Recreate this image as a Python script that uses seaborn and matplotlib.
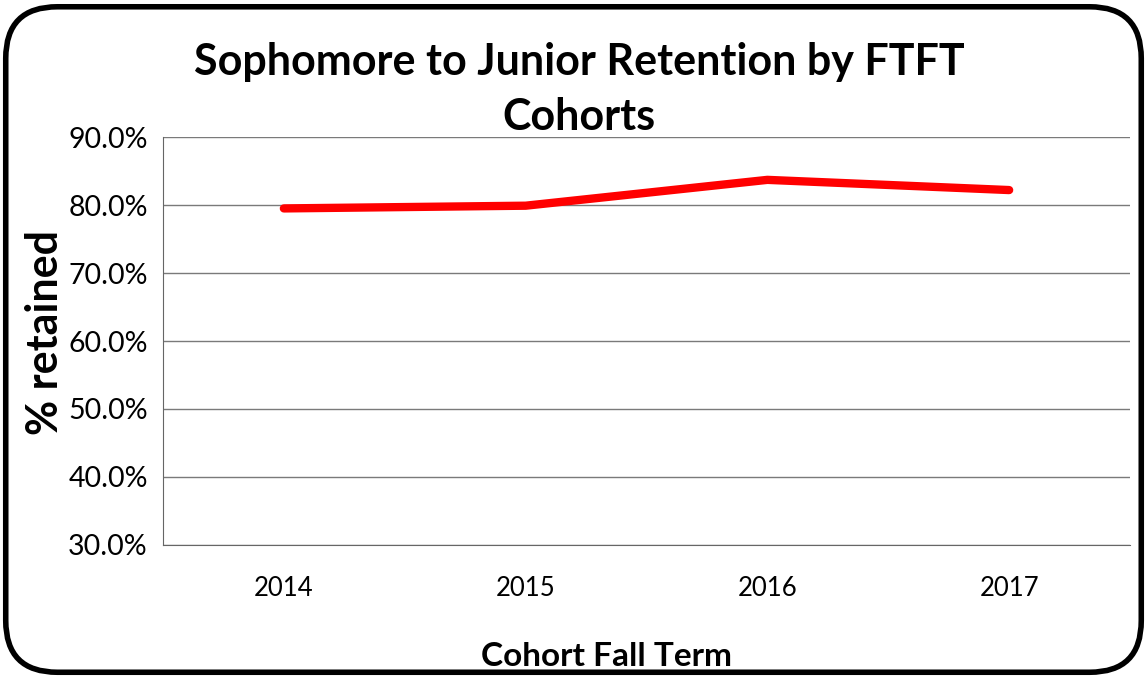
import numpy as np
import matplotlib
matplotlib.use("Agg")
import matplotlib.pyplot as plt
from matplotlib.patches import FancyBboxPatch
from matplotlib.ticker import FuncFormatter, FixedLocator
import pandas as pd
import seaborn as sns

# data
cohorts = ["2014", "2015", "2016", "2017"]
retained = [79.5, 79.9, 83.7, 82.2]

df = pd.DataFrame({"cohort": cohorts, "retained": retained})

sns.set_style("white")
plt.rcParams["font.family"] = ["Lato", "DejaVu Sans"]
plt.rcParams["text.color"] = "black"
plt.rcParams["axes.labelcolor"] = "black"
plt.rcParams["xtick.color"] = "black"
plt.rcParams["ytick.color"] = "black"

fig = plt.figure(figsize=(11.47, 6.77), dpi=100)
ax = fig.add_axes([0.1421, 0.195, 0.8431, 0.6026])

sns.lineplot(data=df, x="cohort", y="retained", color="#FF0000",
             linewidth=6, solid_capstyle="round", ax=ax)

ax.set_ylim(30, 90)
ax.set_xlim(-0.5, 3.5)
ax.yaxis.set_major_locator(FixedLocator(np.arange(30, 91, 10)))
ax.yaxis.set_major_formatter(FuncFormatter(lambda v, p: f"{v:.1f}%"))
ax.grid(axis="y", color="#7a7a7a", linewidth=1)
ax.set_axisbelow(True)

# labels centred on categories, ticks on the boundaries
ax.set_xticks(range(len(cohorts)))
ax.set_xticklabels(cohorts)
ax.set_xticks(np.arange(-0.5, 3.6, 1), minor=True)
ax.tick_params(axis="x", which="major", length=0, pad=22, labelsize=18.5)
ax.tick_params(axis="x", which="minor", length=8, width=1, color="#666666", direction="out")
ax.tick_params(axis="y", length=8, width=1, color="#666666", direction="out", labelsize=20.5, pad=3)

for s in ["top", "right"]:
    ax.spines[s].set_visible(False)
ax.spines["left"].set_color("#666666")
ax.spines["bottom"].set_color("#666666")

ax.set_xlabel("Cohort Fall Term", fontsize=24, fontweight="bold", va="center")
ax.xaxis.set_label_coords(0.459, -0.2745)
ax.set_ylabel("% retained", fontsize=31, fontweight="bold", va="center")
ax.yaxis.set_label_coords(-0.122, 0.522)

fig.text(0.505, 0.868, "Sophomore to Junior Retention by FTFT\nCohorts",
         ha="center", va="center", fontsize=31, fontweight="bold", linespacing=1.45)

# rounded chart border
fig.patches.append(FancyBboxPatch((0.005, 0.007), 0.99, 0.983,
                                  boxstyle="round,pad=0,rounding_size=0.045",
                                  transform=fig.transFigure, fill=False,
                                  edgecolor="black", linewidth=4,
                                  mutation_aspect=1147 / 677))

fig.savefig("out.png", dpi=100)
